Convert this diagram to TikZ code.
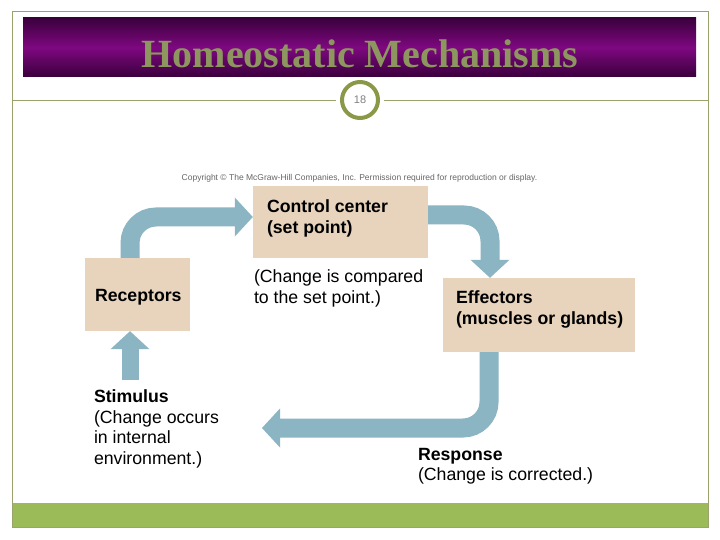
\documentclass[tikz,border=0pt]{standalone}
\usepackage{fontspec}
\setmainfont{Liberation Sans}
\newfontfamily\titlefont{Liberation Serif}
\usetikzlibrary{positioning,calc}
\usetikzlibrary{arrows.meta}
\definecolor{SlidePurple}{RGB}{126,8,128}
\definecolor{SlideDark}{RGB}{58,0,60}
\definecolor{TitleOlive}{RGB}{142,150,96}
\definecolor{RimOlive}{RGB}{137,153,72}
\definecolor{FrameOlive}{RGB}{155,162,108}
\definecolor{BarGreen}{RGB}{155,187,89}
\definecolor{FlowBlue}{RGB}{139,181,194}
\definecolor{BoxTan}{RGB}{232,212,188}
\tikzset{
	box/.style={fill=BoxTan,inner sep=0pt},
	lbl/.style={font=\fontsize{17.7}{20.5}\selectfont,align=left,inner sep=0pt,anchor=north west},
	lblbold/.style={lbl,font=\fontsize{17.7}{20.5}\selectfont\bfseries},
	flow/.style={draw=FlowBlue,line width=19pt,rounded corners=26pt,
		-{Triangle[width=39pt,length=18pt,line width'=0pt]}},
}

\begin{document}
\begin{tikzpicture}[x=1pt,y=-1pt]
	\useasboundingbox (0,0) rectangle (720,540);
	% slide frame
	\fill[white] (0,0) rectangle (720,540);
	\fill[BarGreen] (12,503) rectangle (708,527);
	\draw[FrameOlive,line width=1pt] (12,12) rectangle (708,527);
	\shade[top color=SlideDark,bottom color=SlideDark,middle color=SlidePurple] (23,18) rectangle (696,77);
	\node[font=\titlefont\bfseries\fontsize{40}{42}\selectfont,text=TitleOlive] (title) at (360,54) {Homeostatic Mechanisms};
	\node[circle,draw=RimOlive,line width=4pt,fill=white,minimum size=36pt,outer sep=6pt,inner sep=0pt,
		font=\fontsize{11}{11}\selectfont,text=gray] (num) at (360,100) {18};
	\coordinate (rl) at (12,100);
	\coordinate (rr) at (708,100);
	\draw[FrameOlive] (rl) -- (num.west) (num.east) -- (rr);
	\node[font=\fontsize{8.5}{9}\selectfont,text=black!60,anchor=base] (copy) at (359.5,181)
		{Copyright © The McGraw-Hill Companies, Inc. Permission required for reproduction or display.};
	% boxes
	\node[box,minimum width=175pt,minimum height=72pt] (ctrl) at (340.5,222) {};
	\node[box,minimum width=105pt,minimum height=73pt] (recep) at (137.5,294.5) {};
	\node[box,minimum width=192pt,minimum height=74pt] (effec) at (539,315) {};
	\node[lblbold] (ctrltxt) at ($(ctrl.north west)+(14,14)$) {Control center\\(set point)};
	\node[lbl] (cmptxt) at ($(ctrl.south west)+(1,11.5)$) {(Change is compared\\to the set point.)};
	\node[lblbold] (receptxt) at ($(recep.north west)+(10,31.5)$) {Receptors};
	\node[lblbold] (effectxt) at ($(effec.north west)+(13,13)$) {Effectors\\(muscles or glands)};
	\node[lbl] (stimtxt) at ($(recep.south west)+(9,58.5)$) {\textbf{Stimulus}\\(Change occurs\\in internal\\environment.)};
	\node[lbl] (resptxt) at ($(effec.south west)+(-25,95.5)$) {\textbf{Response}\\(Change is corrected.)};
	% feedback loop
	\coordinate (back) at (262,428);
	\coordinate (stim) at (130,380);
	\draw[flow] ($(recep.north)+(-7.5,0)$) |- ($(ctrl.west)+(0,-5)$);
	\draw[flow] ($(ctrl.east)+(0,-7)$) -| ($(effec.north)+(-49,0)$);
	\draw[flow] ($(effec.south)+(-50,0)$) |- (back);
	\draw[flow,line width=17pt] (stim) -- (recep.south -| stim);
\end{tikzpicture}
\end{document}
